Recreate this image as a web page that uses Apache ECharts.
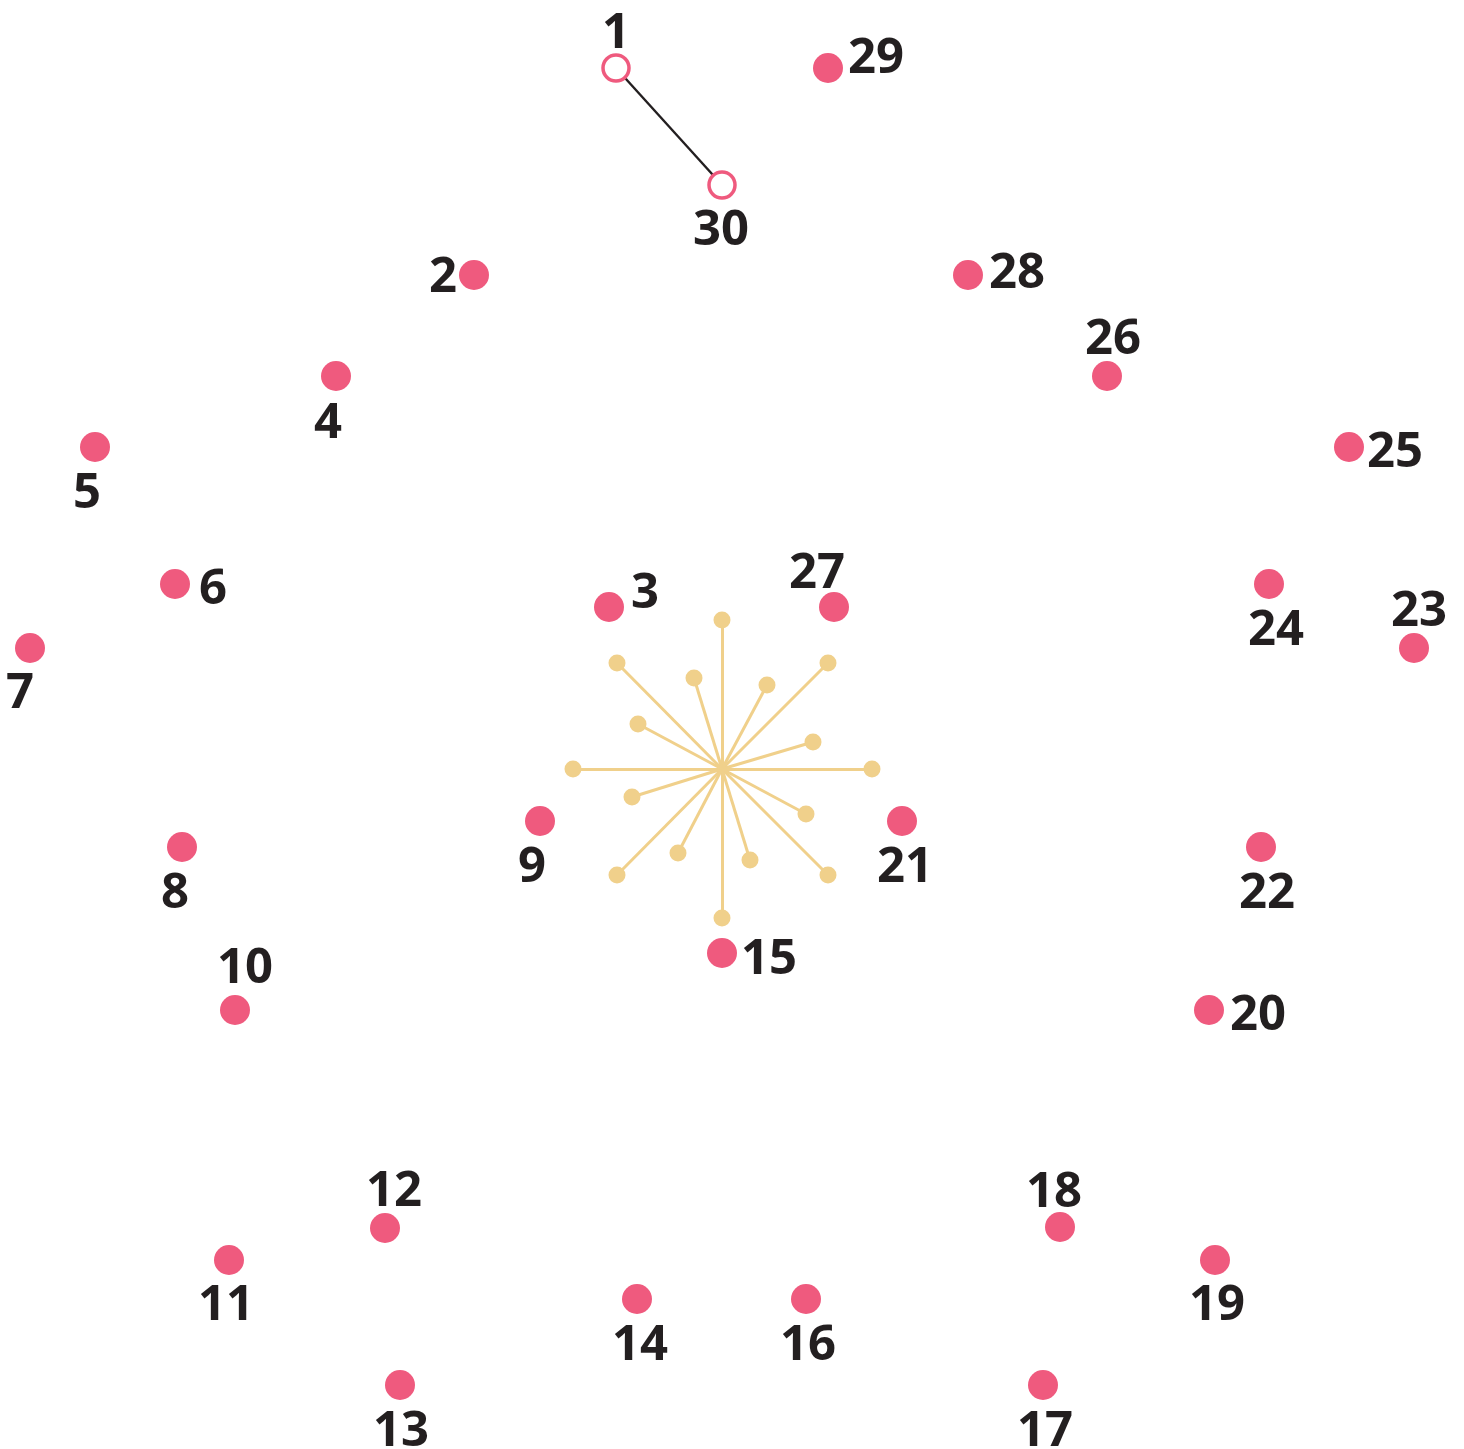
<!DOCTYPE html>
<html>
<head>
<meta charset="utf-8">
<script src="https://cdn.jsdelivr.net/npm/echarts@6/dist/echarts.min.js"></script>
<style>html,body{margin:0;padding:0;background:#fff}#c{width:1464px;height:1449px}</style>
</head>
<body>
<div id="c"></div>
<script>
// Dot numbers and positions (picture pixel units, y downward)
const dotNumbers = [1,2,3,4,5,6,7,8,9,10,11,12,13,14,15,16,17,18,19,20,21,22,23,24,25,26,27,28,29,30];
const dotX = [616,474,609,336,95,175,30,182,540,235,229,385,400,637,722,806,1043,1060,1215,1209,902,1261,1414,1269,1349,1107,834,968,828,722];
const dotY = [68,275,607,376,447,584,648,847,821,1010,1260,1228,1385,1299,953,1299,1385,1227,1260,1010,821,847,648,584,447,376,607,275,68,185];
// Label offsets relative to each dot
const labelDX = [0,-31,36,-8,-8,38,-10,-7,-8,10,-3,9,1,3,47,2,2,-6,2,49,3,6,5,7,46,6,-17,49,48,-1];
const labelDY = [-38,-1,-17,44,43,2,42,43,43,-45,42,-40,43,43,3,43,43,-38,42,2,43,43,-40,43,2,-40,-37,-5,-13,42];
// Numbers already joined
const joined = [1,30];
// Decorative star in the middle
const starCenter = [722,769];
const starEndX = [872,828,722,617,573,617,722,828,813,767,694,638,632,678,750,806];
const starEndY = [769,663,620,663,769,875,918,875,742,685,678,724,797,853,860,814];

const PINK = '#ef5a7e', GOLD = '#f0d08b', INK = '#231f20';
const TEXT_SHIFT = 4;

const dots = dotNumbers.map((n,i)=>({
  value:[dotX[i],dotY[i]],
  name:String(n),
  symbolSize: joined.includes(n) ? 26 : 30,
  itemStyle: joined.includes(n) ? {color:'#fff',borderColor:PINK,borderWidth:3.5,opacity:1} : {color:PINK,opacity:1},
  label:{offset:[labelDX[i],labelDY[i]+TEXT_SHIFT]}
}));
const joinLine = [{coords: joined.map(n=>[dotX[n-1],dotY[n-1]])}];
const spokes = starEndX.map((x,i)=>({coords:[starCenter,[x,starEndY[i]]]}));
const spokeEnds = starEndX.map((x,i)=>[x,starEndY[i]]);

const chart = echarts.init(document.getElementById('c'));
chart.setOption({
  animation:false,
  grid:{left:0,right:0,top:0,bottom:0},
  xAxis:{type:'value',min:0,max:1464,show:false},
  yAxis:{type:'value',min:0,max:1449,inverse:true,show:false},
  series:[
    {type:'lines',coordinateSystem:'cartesian2d',data:spokes,lineStyle:{color:GOLD,width:3,opacity:1},z:1,silent:true},
    {type:'scatter',data:spokeEnds,symbolSize:17,itemStyle:{color:GOLD,opacity:1},z:2,silent:true},
    {type:'lines',coordinateSystem:'cartesian2d',data:joinLine,lineStyle:{color:INK,width:2.4,opacity:1},z:3,silent:true},
    {type:'scatter',data:dots,z:4,itemStyle:{opacity:1},
      label:{show:true,position:'inside',formatter:p=>p.name,fontFamily:'Open Sans',fontWeight:700,fontSize:49,color:INK,opacity:1,align:'center',verticalAlign:'middle'}}
  ]
});
</script>
</body>
</html>
